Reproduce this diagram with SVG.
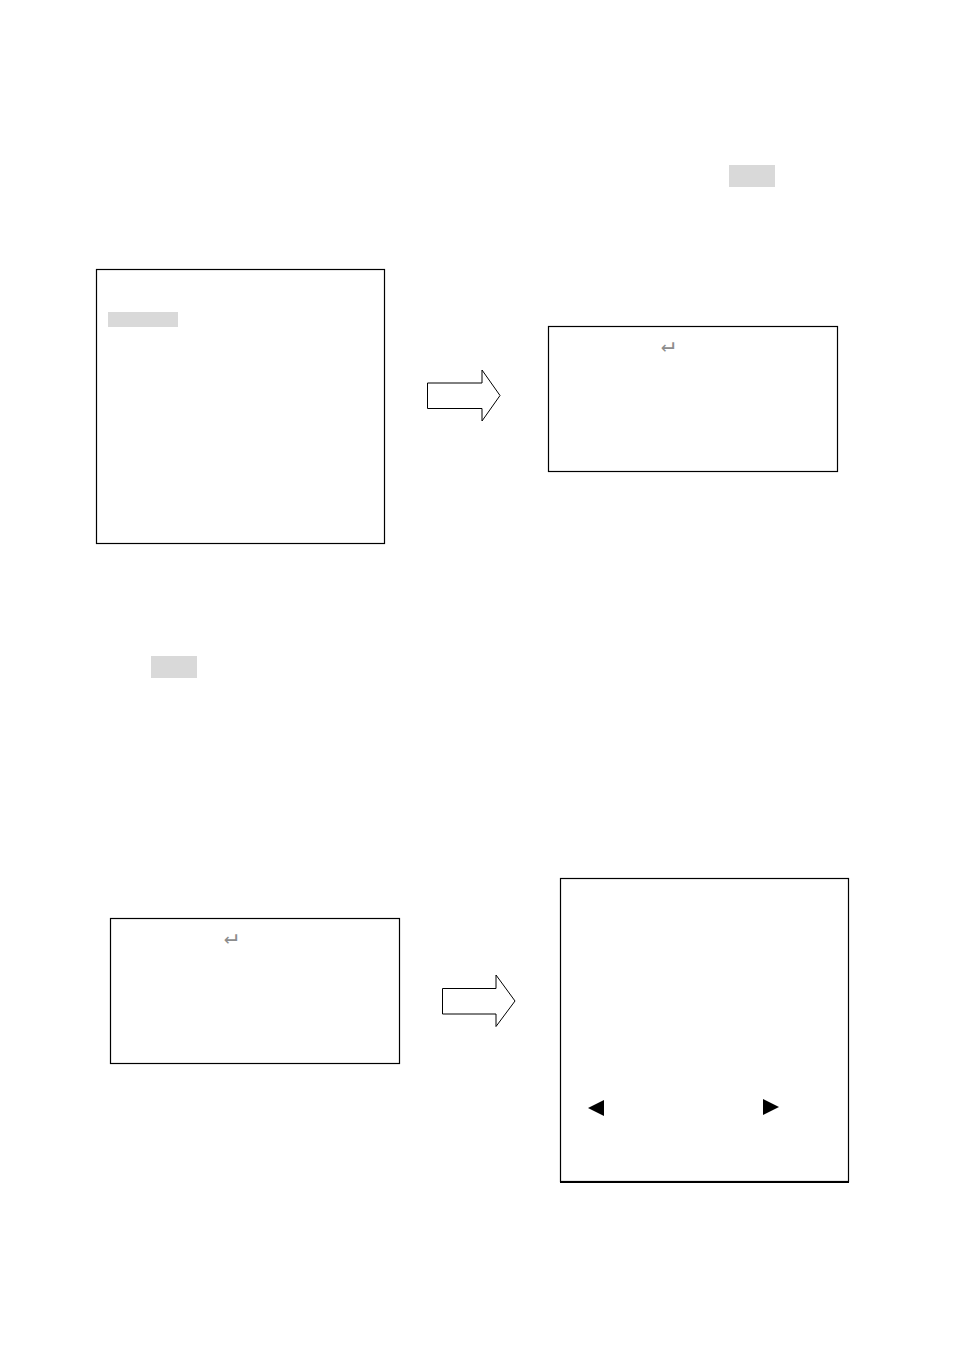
<svg xmlns="http://www.w3.org/2000/svg" width="954" height="1351" viewBox="0 0 954 1351">
<style>
.box{fill:#fff;stroke:#000;stroke-width:1.2}
.hl{fill:#d9d9d9}
.arr{fill:#fff;stroke:#000;stroke-width:1}
.ret{font-family:"DejaVu Sans Mono","DejaVu Sans",monospace;font-size:23px;fill:#8c8c8c}
.tri{fill:#000}
</style>
<rect width="954" height="1351" fill="#fff"/>
<rect class="hl" x="729" y="165" width="46" height="22"/>
<rect class="hl" x="151" y="656" width="46" height="22"/>
<g id="node1">
<rect class="box" x="96.5" y="269.5" width="288" height="274"/>
<rect class="hl" x="108" y="312" width="70" height="15"/>
</g>
<g id="node2">
<rect class="box" x="548.5" y="326.5" width="289" height="145"/>
<text class="ret" x="661" y="352">↵︎</text>
</g>
<g id="node3">
<rect class="box" x="110.5" y="918.5" width="289" height="145"/>
<text class="ret" x="224" y="944">↵︎</text>
</g>
<g id="node4">
<rect class="box" x="560.5" y="878.5" width="288" height="303"/>
<line x1="560" y1="1182" x2="849" y2="1182" stroke="#000" stroke-width="2"/>
<polygon class="tri" points="588,1108 604,1100 604,1116"/>
<polygon class="tri" points="779,1107 763,1099 763,1115"/>
</g>
<g id="connectors">
<polygon class="arr" points="427.5,383 482,383 482,370 500,395.5 482,421 482,408.5 427.5,408.5"/>
<polygon class="arr" points="442.5,988.5 496,988.5 496,975 515,1001 496,1026.5 496,1014 442.5,1014"/>
</g>
</svg>
